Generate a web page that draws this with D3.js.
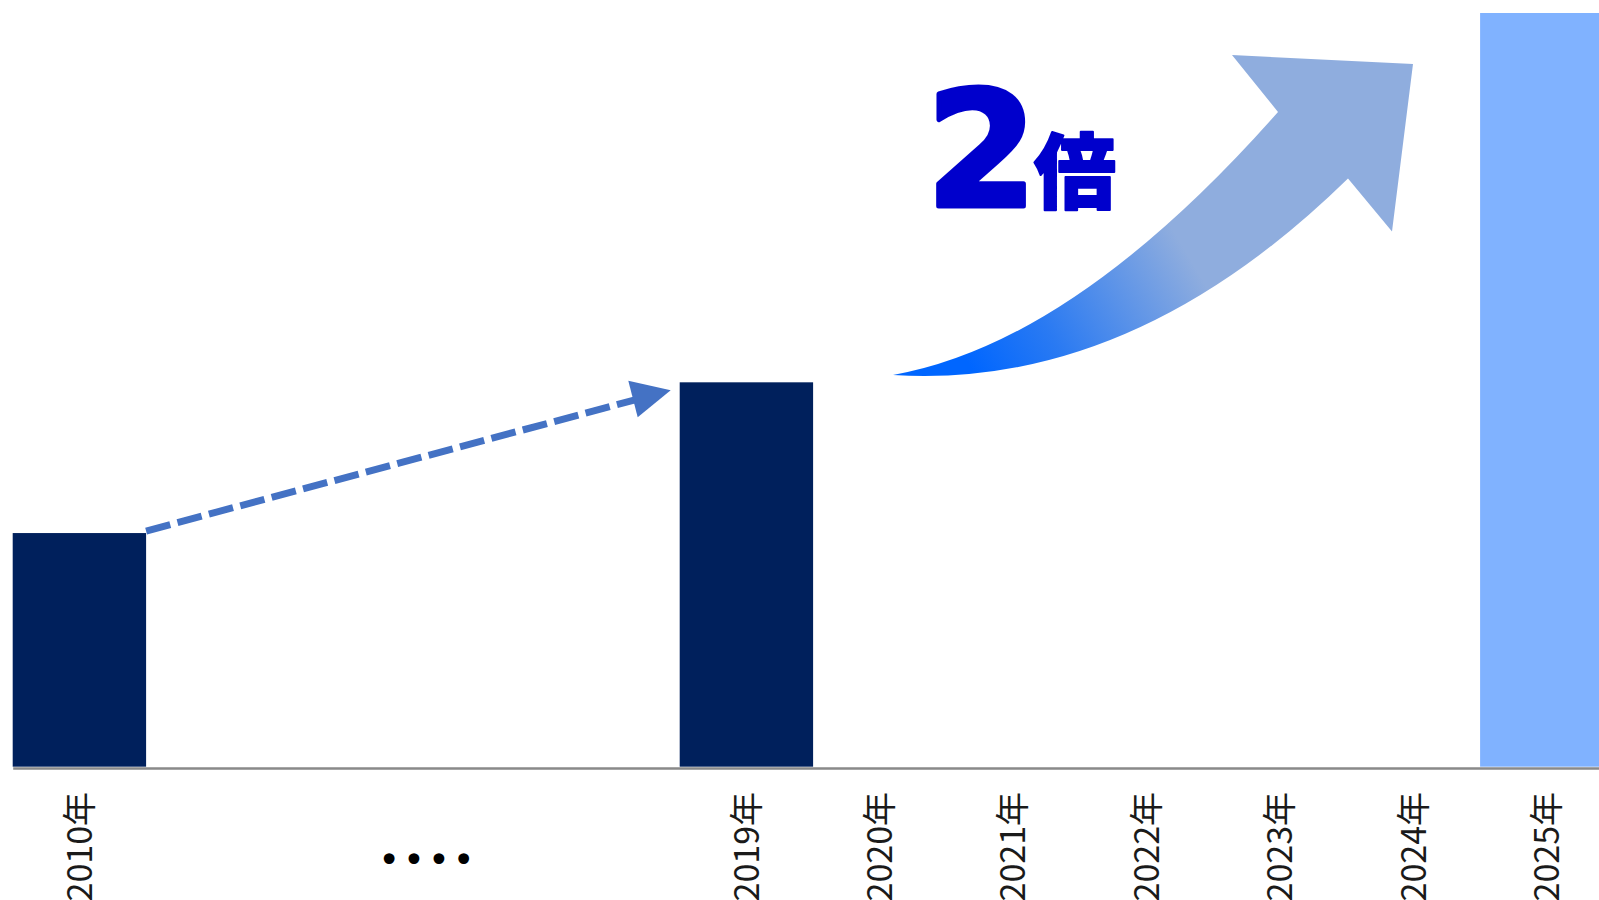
<!DOCTYPE html>
<html>
<head>
<meta charset="utf-8">
<script src="https://cdn.jsdelivr.net/npm/d3@7"></script>
<style>
  html, body { margin: 0; padding: 0; background: #fff; overflow: hidden; }
  svg { display: block; }
</style>
</head>
<body>
<div id="chart"></div>
<script>
// categories along the axis (gap slots have no label)
var categories = ["2010年", "gap1", "gap2", "gap3", "gap4", "2019年", "2020年", "2021年", "2022年", "2023年", "2024年", "2025年"];
var barCats = ["2010年", "2019年", "2025年"];
var barValues = [31, 51, 100];
var barColors = ["#00205c", "#00205c", "#80b2ff"];
var gapText = "••••";
var ratioNum = "2";
var ratioUnit = "倍";

var W = 1599, H = 900;

var svg = d3.select("#chart").append("svg")
    .attr("width", W)
    .attr("height", H);

var x = d3.scaleBand()
    .domain(categories)
    .range([12.7, 12.7 + 12 * 133.4])
    .padding(0);

var y = d3.scaleLinear()
    .domain([0, 100])
    .range([766.7, 13]);

var defs = svg.append("defs");
var grad = defs.append("linearGradient")
    .attr("id", "upGrad")
    .attr("gradientUnits", "userSpaceOnUse")
    .attr("x1", 975).attr("y1", 375)
    .attr("x2", 1185).attr("y2", 250);
grad.append("stop").attr("offset", "0").attr("stop-color", "#0066ff");
grad.append("stop").attr("offset", "0.35").attr("stop-color", "#2a7af2");
grad.append("stop").attr("offset", "1").attr("stop-color", "#8fadde");

// bars
svg.selectAll("rect.bar")
    .data(barCats)
    .enter()
    .append("rect")
    .attr("class", "bar")
    .attr("x", function(d){ return x(d); })
    .attr("width", x.bandwidth())
    .attr("y", function(d, i){ return y(barValues[i]); })
    .attr("height", function(d, i){ return y(0) - y(barValues[i]); })
    .attr("fill", function(d, i){ return barColors[i]; });

// axis
var axis = svg.append("g")
    .attr("transform", "translate(0,768)")
    .call(d3.axisBottom(x).tickSize(0).tickFormat(function(d){ return d.indexOf("gap") === 0 ? "" : d; }));

axis.select(".domain")
    .attr("stroke", "#898989")
    .attr("stroke-width", 2.6);

axis.selectAll("text")
    .attr("transform", "rotate(-90)")
    .attr("x", -24)
    .attr("y", 0)
    .attr("dy", "0.36em")
    .attr("text-anchor", "end")
    .attr("fill", "#1a1a1a")
    .style("font-family", "'Noto Sans CJK JP', 'Noto Sans', sans-serif")
    .style("font-size", "34px");

// dots for skipped years
var gapMid = (x("2010年") + x("2019年") + x.bandwidth()) / 2 + 15;
svg.append("text")
    .attr("x", gapMid)
    .attr("y", 860)
    .attr("dy", "0.35em")
    .attr("text-anchor", "middle")
    .attr("fill", "#000")
    .style("font-family", "'DejaVu Sans', sans-serif")
    .style("font-size", "37px")
    .style("letter-spacing", "3px")
    .text(gapText);

// dashed arrow 2010 -> 2019
var sx = x("2010年") + x.bandwidth(), sy = y(barValues[0]) - 2;
var tx = x("2019年") - 9, ty = y(barValues[1]) + 8;
var ang = Math.atan2(ty - sy, tx - sx);
var headLen = 38;
var bx = tx - headLen * Math.cos(ang), by = ty - headLen * Math.sin(ang);

svg.append("line")
    .attr("x1", sx).attr("y1", sy)
    .attr("x2", bx + 4 * Math.cos(ang)).attr("y2", by + 4 * Math.sin(ang))
    .attr("stroke", "#4472c4")
    .attr("stroke-width", 7)
    .attr("stroke-dasharray", "25,7.5");

svg.append("path")
    .attr("d", "M" + tx + "," + ty +
        "L628.3,380.7" +
        "L637.7,417.3Z")
    .attr("fill", "#4472c4");

// curved growth arrow
var arrowPath = "M893,375" +
    "Q1074,343 1278,112" +
    "L1232,55" +
    "L1413,64" +
    "L1392,231.5" +
    "L1348,178.5" +
    "Q1132,390 893,375Z";

svg.append("path")
    .attr("d", arrowPath)
    .attr("fill", "url(#upGrad)");

// 2倍 label
svg.append("text")
    .attr("x", 926)
    .attr("y", 206)
    .attr("fill", "#0000cc")
    .attr("stroke", "#0000cc")
    .attr("stroke-width", 5)
    .attr("stroke-linejoin", "round")
    .style("font-family", "'DejaVu Sans', sans-serif")
    .style("font-weight", "bold")
    .style("font-size", "160px")
    .text(ratioNum);

svg.append("text")
    .attr("x", 1034)
    .attr("y", 202)
    .attr("fill", "#0000cc")
    .attr("stroke", "#0000cc")
    .attr("stroke-width", 2)
    .attr("stroke-linejoin", "round")
    .style("font-family", "'Noto Sans CJK JP', sans-serif")
    .style("font-weight", "900")
    .style("font-size", "82px")
    .text(ratioUnit);
</script>
</body>
</html>
